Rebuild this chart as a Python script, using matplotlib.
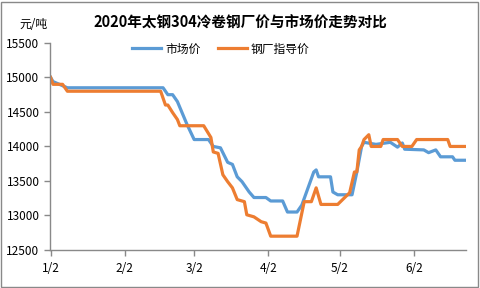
import pandas as pd
import matplotlib.pyplot as plt
from matplotlib.patches import Rectangle

plt.rcParams['font.family'] = ['Noto Sans CJK SC', 'DejaVu Sans']

# market price (市场价)
market_dates = ['01-02', '01-03', '01-09', '02-18', '02-20', '02-22', '02-24', '02-28',
                '03-02', '03-08', '03-10', '03-13', '03-16', '03-18', '03-20', '03-22',
                '03-25', '03-27', '04-01', '04-03', '04-08', '04-10', '04-14', '04-16',
                '04-21', '04-22', '04-23', '04-28', '04-29', '05-01', '05-07', '05-09',
                '05-11', '05-12', '05-17', '05-23', '05-26', '05-28', '05-29', '06-06',
                '06-08', '06-11', '06-13', '06-18', '06-19', '06-23']
market_vals = [15000, 14940, 14850, 14850, 14750, 14750, 14650, 14320,
               14100, 14100, 14000, 13980, 13770, 13740, 13560, 13490,
               13340, 13260, 13260, 13210, 13210, 13050, 13050, 13150,
               13630, 13660, 13560, 13560, 13340, 13300, 13300, 13630,
               14000, 14060, 14030, 14060, 13990, 14050, 13960, 13950,
               13910, 13950, 13850, 13850, 13800, 13800]

# mill guide price (钢厂指导价)
mill_dates = ['01-02', '01-03', '01-07', '01-09', '02-17', '02-19', '02-20', '02-22',
              '02-24', '02-25', '03-06', '03-09', '03-10', '03-12', '03-14', '03-16',
              '03-18', '03-20', '03-23', '03-24', '03-27', '03-30', '04-01', '04-03',
              '04-14', '04-17', '04-20', '04-22', '04-24', '05-01', '05-06', '05-08',
              '05-09', '05-10', '05-11', '05-12', '05-14', '05-15', '05-19', '05-20',
              '05-26', '05-28', '06-01', '06-03', '06-16', '06-17', '06-23']
mill_vals = [15000, 14900, 14900, 14800, 14800, 14600, 14600, 14490,
             14390, 14300, 14300, 14130, 13920, 13900, 13590, 13490,
             13400, 13230, 13200, 13010, 12980, 12910, 12890, 12700,
             12700, 13200, 13200, 13400, 13160, 13160, 13330, 13630,
             13630, 13950, 14000, 14100, 14170, 14000, 14000, 14100,
             14100, 14000, 14000, 14100, 14100, 14000, 14000]

tick_dates = ['01-02', '02-02', '03-02', '04-02', '05-02', '06-02']
tick_labels = ['1/2', '2/2', '3/2', '4/2', '5/2', '6/2']

to_dt = lambda ds: pd.to_datetime(['2020-' + d for d in ds])

fig = plt.figure(figsize=(4.8, 2.88), dpi=100)
ax = fig.add_axes([0.104, 0.132, 0.867, 0.719])

ax.plot(to_dt(market_dates), market_vals, color='#5B9BD5', lw=2.3, label='市场价')
ax.plot(to_dt(mill_dates), mill_vals, color='#ED7D31', lw=2.3, label='钢厂指导价')

ax.set_ylim(12500, 15500)
ax.set_yticks(range(12500, 15501, 500))
ax.set_xlim(pd.Timestamp('2020-01-01 17:00'), pd.Timestamp('2020-06-23 16:00'))
ax.set_xticks(to_dt(tick_dates))
ax.set_xticklabels(tick_labels)

for s in ['top', 'right']:
    ax.spines[s].set_visible(False)
for s in ['left', 'bottom']:
    ax.spines[s].set_color('#898989')
    ax.spines[s].set_linewidth(1)
ax.tick_params(axis='both', colors='#898989', labelcolor='black', labelsize=8.5, length=4, width=1)
ax.tick_params(axis='x', pad=5)

fig.text(0.5, 0.922, '2020年太钢304冷卷钢厂价与市场价走势对比', ha='center', va='center',
         fontsize=10.5, fontweight='bold')
fig.text(0.07, 0.915, '元/吨', ha='center', va='center', fontsize=8.5)

ax.legend(loc='center', bbox_to_anchor=(0.46, 0.83), bbox_transform=fig.transFigure,
          ncol=2, frameon=False, fontsize=8.5, handlelength=2.5, columnspacing=1.5,
          handletextpad=0.3)

fig.patches.append(Rectangle((0.002, 0.004), 0.994, 0.99, transform=fig.transFigure,
                             fill=False, edgecolor='#898989', lw=1))

fig.savefig('out.png', dpi=100)
